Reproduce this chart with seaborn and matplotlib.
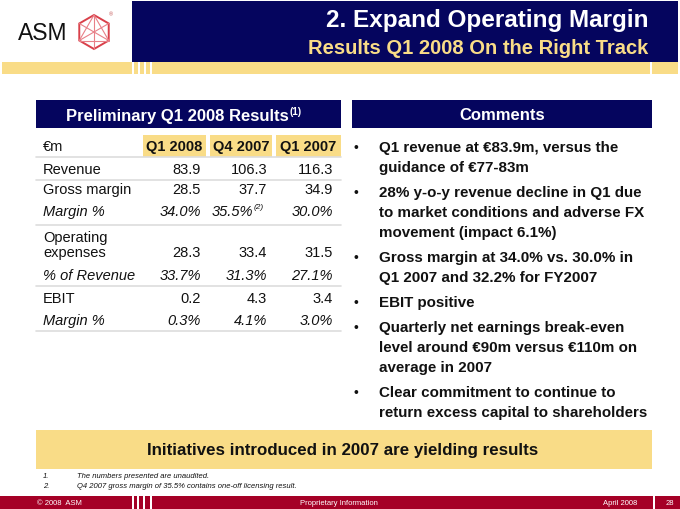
import matplotlib.pyplot as plt
import numpy as np
import seaborn as sns
from matplotlib.patches import Rectangle, Polygon

sns.set_theme(style="white")
plt.rcParams["font.family"] = ["Liberation Sans", "DejaVu Sans"]

# Slide data
title = "2. Expand Operating Margin"
subtitle = "Results Q1 2008 On the Right Track"
table_title = "Preliminary Q1 2008 Results"
columns = ["Q1 2008", "Q4 2007", "Q1 2007"]
row_labels = ["Revenue", "Gross margin", "Margin %", "Operating\nexpenses",
              "% of Revenue", "EBIT", "Margin %"]
is_pct = [False, False, True, False, True, False, True]
q1_2008 = [83.9, 28.5, 34.0, 28.3, 33.7, 0.2, 0.3]
q4_2007 = [106.3, 37.7, 35.5, 33.4, 31.3, 4.3, 4.1]
q1_2007 = [116.3, 34.9, 30.0, 31.5, 27.1, 3.4, 3.0]
comments = [
    "Q1 revenue at €83.9m, versus the\nguidance of €77-83m",
    "28% y-o-y revenue decline in Q1 due\nto market conditions and adverse FX\nmovement (impact 6.1%)",
    "Gross margin at 34.0% vs. 30.0% in\nQ1 2007 and 32.2% for FY2007",
    "EBIT positive",
    "Quarterly net earnings break-even\nlevel around €90m versus €110m on\naverage in 2007",
    "Clear commitment to continue to\nreturn excess capital to shareholders",
]
banner = "Initiatives introduced in 2007 are yielding results"
footnotes = ["The numbers presented are unaudited.",
             "Q4 2007 gross margin of 35.5% contains one-off licensing result."]

NAVY = "#05055E"
YELLOW = "#F9DC87"
RED = "#A50026"
DARK = "#111111"

fig = plt.figure(figsize=(6.8, 5.1), dpi=100)
ax = fig.add_axes([0, 0, 1, 1])
ax.set_xlim(0, 680)
ax.set_ylim(510, 0)
ax.axis("off")

# header
ax.add_patch(Rectangle((132, 2), 546, 61, color=NAVY, lw=0))
ax.add_patch(Rectangle((2, 63), 676, 12, color=YELLOW, lw=0))
for x in [132, 138, 144, 150, 650]:
    ax.add_patch(Rectangle((x, 63), 1.5, 12, color="white", lw=0))
ax.text(648, 21, title, color="white", fontsize=17.5, fontweight="bold",
        ha="right", va="center")
ax.text(648, 48, subtitle, color=YELLOW, fontsize=14.5, fontweight="bold",
        ha="right", va="center")

# logo
ax.text(18, 34, "ASM", fontsize=16.5, color=DARK, ha="left", va="center")
cx, cy, r = 94, 33, 17
ang = np.deg2rad([90, 150, 210, 270, 330, 30])
vx = cx + r * np.cos(ang)
vy = cy - r * np.sin(ang)
ax.add_patch(Polygon(np.c_[vx, vy], closed=True, fill=False,
                     ec="#D9404A", lw=1.4))
for i, j in [(0, 2), (2, 4), (4, 0), (1, 4), (5, 2), (0, 3)]:
    ax.plot([vx[i], vx[j]], [vy[i], vy[j]], color="#E88088", lw=0.8)
ax.text(111, 15, "®", fontsize=4, color="#C05050", ha="center", va="center")

# table panel
ax.add_patch(Rectangle((36, 101), 305, 28, color=NAVY, lw=0))
ax.text(289, 116, table_title, color="white", fontsize=12, fontweight="bold",
        ha="right", va="center")
ax.text(290, 112, "(1)", color="white", fontsize=7, fontweight="bold",
        ha="left", va="center")

cell_x = [(143, 206), (210, 272), (276, 341)]
val_right = [201, 267, 333]
ax.text(43, 147, "€m", fontsize=10.5, color=DARK, ha="left", va="center")
for (x0, x1), col in zip(cell_x, columns):
    ax.add_patch(Rectangle((x0, 136), x1 - x0, 22, color=YELLOW, lw=0))
    ax.text((x0 + x1) / 2, 147, col, fontsize=10.5, fontweight="bold",
            color=DARK, ha="center", va="center")

row_y = [170, 190, 212, 253, 276, 299, 321]
for y in [158, 181, 226, 287, 332]:
    ax.plot([36, 341], [y, y], color="#DDDDDD", lw=1.2)

for i, label in enumerate(row_labels):
    style = "italic" if is_pct[i] else "normal"
    if "\n" in label:
        top, bot = label.split("\n")
        ax.text(43, 238, top, fontsize=10.5, color=DARK, ha="left", va="center")
        ax.text(43, row_y[i], bot, fontsize=10.5, color=DARK, ha="left", va="center")
    else:
        ax.text(43, row_y[i], label, fontsize=10.5, style=style, color=DARK,
                ha="left", va="center")
    for c, vals in enumerate([q1_2008, q4_2007, q1_2007]):
        s = f"{vals[i]:.1f}%" if is_pct[i] else f"{vals[i]:.1f}"
        xr = val_right[c]
        if i == 2 and c == 1:
            ax.text(254, row_y[i] - 4, "(2)", fontsize=6, style="italic",
                    color=DARK, ha="left", va="center")
            xr = 253
        ax.text(xr, row_y[i], s, fontsize=10.5, style=style, color=DARK,
                ha="right", va="center")

# comments panel
ax.add_patch(Rectangle((352, 101), 300, 28, color=NAVY, lw=0))
ax.text(502, 116, "Comments", color="white", fontsize=12, fontweight="bold",
        ha="center", va="center")
y = 148
for c in comments:
    lines = c.split("\n")
    ax.text(356, y, "•", fontsize=10, color=DARK, ha="center", va="center")
    for k, line in enumerate(lines):
        ax.text(379, y + 20 * k, line, fontsize=10.9, fontweight="bold",
                color=DARK, ha="left", va="center")
    y += 20 * len(lines) + 5

# banner
ax.add_patch(Rectangle((36, 431), 616, 39, color=YELLOW, lw=0))
ax.text(343, 451, banner, fontsize=12.2, fontweight="bold", color=DARK,
        ha="center", va="center")

# footnotes
for k, note in enumerate(footnotes):
    ax.text(43, 477 + 10 * k, f"{k + 1}.", fontsize=5.5, style="italic",
            color=DARK, ha="left", va="center")
    ax.text(77, 477 + 10 * k, note, fontsize=5.5, style="italic",
            color=DARK, ha="left", va="center")

# footer
ax.add_patch(Rectangle((0, 497), 680, 13, color=RED, lw=0))
for x in [132, 137, 143, 150, 653]:
    ax.add_patch(Rectangle((x, 497), 1.5, 13, color="white", lw=0))
ax.text(37, 504, "© 2008  ASM", fontsize=5.5, color="white", ha="left", va="center")
ax.text(339, 504, "Proprietary Information", fontsize=5.5, color="white",
        ha="center", va="center")
ax.text(620, 504, "April 2008", fontsize=5.5, color="white", ha="center", va="center")
ax.text(670, 504, "28", fontsize=5.5, color="white", ha="center", va="center")

fig.savefig("out.png", dpi=100)
